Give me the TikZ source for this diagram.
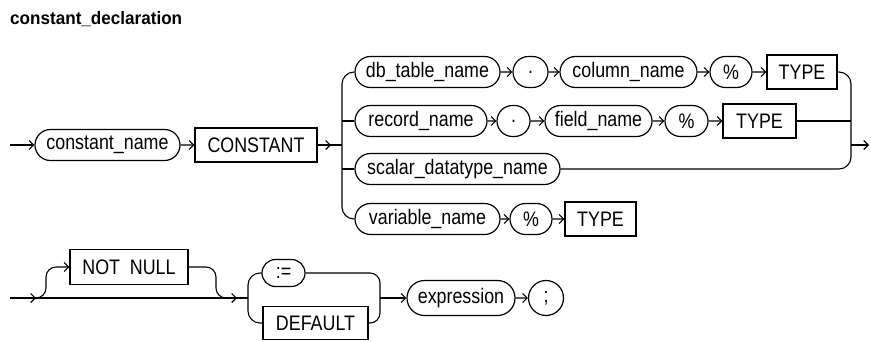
\documentclass[tikz,border=0pt]{standalone}
\usepackage{fontspec}
\setmainfont{Liberation Sans}[FakeStretch=0.85]
\newfontfamily\titlefont{Liberation Sans}[FakeStretch=0.95]
\usetikzlibrary{shapes.misc,arrows.meta}
\newcommand\dgfont{\fontsize{21}{23}\selectfont}
\begin{document}
\begin{tikzpicture}[
  x=1pt, y=-1pt,
  oval/.style={rounded rectangle, draw, line width=1.2pt, minimum height=31pt, inner sep=0pt, font=\dgfont},
  kw/.style={rectangle, draw, line width=1.2pt, minimum height=34pt, inner sep=0pt, font=\dgfont},
  ln/.style={line width=1.1pt},
  arr/.style={-{Straight Barb[length=4.5pt,width=9pt]}, line width=1.1pt},
  ttl/.style={anchor=base west, inner sep=0pt, font=\titlefont\bfseries\fontsize{18}{20}\selectfont}
]
  \useasboundingbox (0,0) rectangle (871,341);
  \node[ttl] (title) at (10,24) {constant\_declaration};

  % first line
  \node[oval, minimum width=145pt] (cname) at (107.5,145) {constant\_name};
  \node[kw, minimum width=122pt] (constkw) at (256,145) {CONSTANT};

  \node[oval, minimum width=145pt] (dbtable) at (427.5,72) {db\_table\_name};
  \node[oval, minimum width=35pt] (dotA) at (530.5,72) {.};
  \node[oval, minimum width=137pt] (colname) at (628.5,72) {column\_name};
  \node[oval, minimum width=42pt] (pctA) at (731,72) {\%};
  \node[kw, minimum width=70pt] (typeA) at (802,72) {TYPE};

  \node[oval, minimum width=132pt] (recname) at (421,121) {record\_name};
  \node[oval, minimum width=33pt] (dotB) at (513.5,121) {.};
  \node[oval, minimum width=107pt] (fldname) at (598.5,121) {field\_name};
  \node[oval, minimum width=43pt] (pctB) at (686.5,121) {\%};
  \node[kw, minimum width=73pt] (typeB) at (759.5,121) {TYPE};

  \node[oval, minimum width=205pt] (scalar) at (457.5,169) {scalar\_datatype\_name};

  \node[oval, minimum width=145pt] (varname) at (427.5,219) {variable\_name};
  \node[oval, minimum width=42pt] (pctC) at (531,219) {\%};
  \node[kw, minimum width=71pt] (typeC) at (600.5,219) {TYPE};

  \coordinate (in1) at (10,145);
  \coordinate (tip1) at (331,145);
  \coordinate (jl) at (342,145);
  \coordinate (jr) at (851,145);
  \coordinate (out1) at (869,145);

  \draw[arr] (in1) -- (cname);
  \draw[arr] (cname) -- (constkw);
  \draw[ln] (constkw) -- (jl);
  \draw[arr] (constkw) -- (tip1);

  % branches in
  \draw[ln, rounded corners=12pt] (dbtable.west) -| (jl) |- (varname.west);
  \draw[ln] (recname.west) -- (recname.west -| jl);
  \draw[ln] (scalar.west) -- (scalar.west -| jl);

  % rows
  \draw[arr] (dbtable) -- (dotA);
  \draw[arr] (dotA) -- (colname);
  \draw[arr] (colname) -- (pctA);
  \draw[arr] (pctA) -- (typeA);
  \draw[arr] (recname) -- (dotB);
  \draw[arr] (dotB) -- (fldname);
  \draw[arr] (fldname) -- (pctB);
  \draw[arr] (pctB) -- (typeB);
  \draw[arr] (varname) -- (pctC);
  \draw[arr] (pctC) -- (typeC);

  % branches out
  \draw[ln, rounded corners=12pt] (typeA.east) -| (jr) |- (scalar.east);
  \draw[ln] (typeB.east) -- (typeB.east -| jr);
  \draw[arr] (jr) -- (out1);

  % second line
  \node[kw, minimum width=118pt, minimum height=35pt] (notnull) at (129,267) {NOT\ \ NULL};
  \node[oval, minimum width=43pt, minimum height=27pt] (assign) at (283.5,273) {:=};
  \node[kw, minimum width=105pt, minimum height=33pt] (default) at (315.5,323) {DEFAULT};
  \node[oval, minimum width=108pt, minimum height=35pt] (expr) at (461,298) {expression};
  \node[oval, minimum width=32pt, minimum height=35pt] (semi) at (546,298) {;};

  \coordinate (in2) at (10,298);
  \coordinate (tip2) at (36,298);
  \coordinate (nnL) at (46,298);
  \coordinate (nnR) at (216,298);
  \coordinate (tip3) at (237,298);
  \coordinate (jl2) at (248,298);
  \coordinate (jr2) at (380,298);

  \draw[ln] (in2) -- (jl2);
  \draw[arr] (in2) -- (tip2);
  \draw[arr, rounded corners=10pt] (tip2) -- (nnL) |- (notnull.west);
  \draw[ln, rounded corners=10pt] (notnull.east) -| (nnR) -- (tip3);
  \draw[arr] (in2) -- (tip3);

  % := or DEFAULT
  \draw[ln, rounded corners=12pt] (assign.west) -| (jl2) |- (default.west);
  \draw[ln, rounded corners=10pt] (assign.east) -| (jr2) |- (default.east);
  \draw[arr] (jr2) -- (expr);
  \draw[arr] (expr) -- (semi);
\end{tikzpicture}
\end{document}
